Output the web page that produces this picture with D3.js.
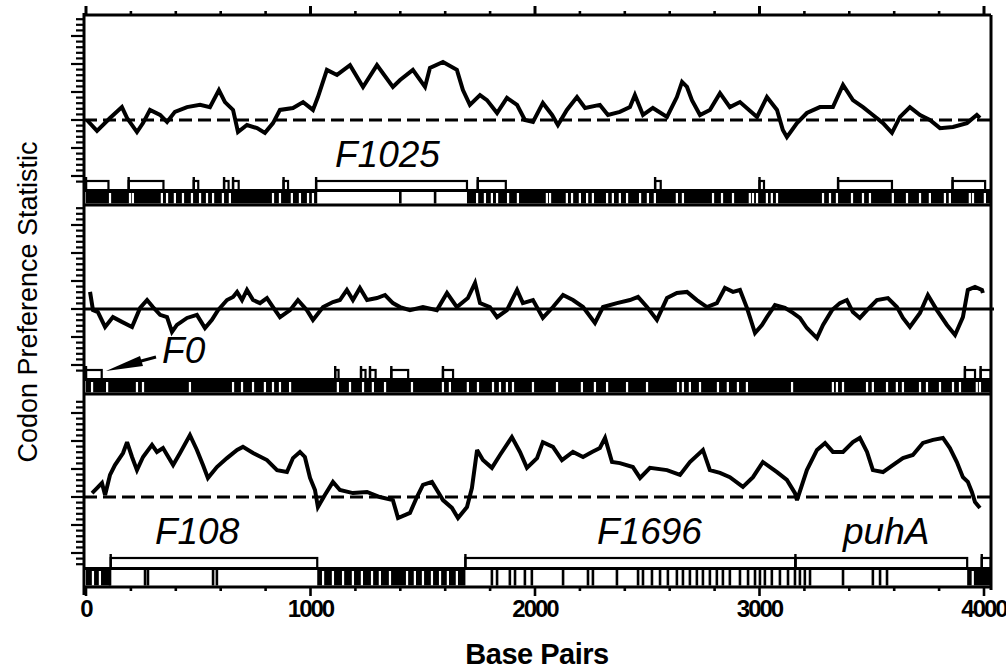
<!DOCTYPE html>
<html>
<head>
<meta charset="utf-8">
<script src="https://cdn.jsdelivr.net/npm/d3@7/dist/d3.min.js"></script>
<style>
body { margin: 0; background: #fff; }
</style>
</head>
<body>
<div id="chart"></div>
<script>
// values (base pairs / codon preference statistic)
const xTickLabels = [0, 1000, 2000, 3000, 4000];

const bp1 = [4,49,107,160,183,227,254,285,330,361,396,450,508,552,592,619,655,677,717,762,797,833,864,922,967,1011,1033,1073,1118,1176,1234,1296,1367,1399,1456,1510,1532,1590,1652,1679,1710,1755,1786,1831,1875,1920,1955,1991,2035,2076,2102,2142,2187,2223,2289,2325,2378,2423,2445,2481,2525,2588,2632,2655,2677,2699,2735,2779,2824,2868,2913,2989,3033,3078,3104,3122,3167,3211,3269,3327,3372,3416,3461,3505,3550,3590,3626,3670,3715,3759,3804,3862,3924,3968,3982];
const cp1 = [1.000,0.961,1.007,1.046,1.007,0.957,0.989,1.036,1.018,0.993,1.029,1.046,1.054,1.046,1.107,1.064,1.036,0.957,0.982,0.971,0.954,0.989,1.036,1.043,1.064,1.036,1.082,1.179,1.161,1.196,1.118,1.196,1.118,1.143,1.179,1.118,1.186,1.207,1.179,1.107,1.054,1.089,1.071,1.025,1.079,1.054,1.000,0.993,1.061,1.018,0.982,1.036,1.082,1.043,1.054,1.018,1.029,1.046,1.089,1.018,1.043,1.011,1.082,1.136,1.118,1.071,1.018,1.036,1.096,1.046,1.064,1.011,1.082,1.036,0.964,0.939,0.989,1.025,1.046,1.046,1.125,1.071,1.046,1.018,0.989,0.954,1.011,1.046,1.018,1.000,0.971,0.975,0.989,1.018,1.007];

const bp2 = [18,31,53,85,120,160,205,241,272,298,330,361,383,405,450,494,530,561,588,628,655,673,695,717,744,775,806,833,864,909,944,984,1011,1056,1100,1131,1162,1189,1220,1252,1296,1332,1367,1399,1443,1501,1563,1608,1652,1701,1733,1755,1799,1831,1875,1920,1946,1991,2035,2080,2125,2169,2214,2267,2303,2365,2423,2459,2499,2543,2588,2632,2677,2721,2766,2810,2846,2882,2913,2944,2980,3011,3033,3069,3113,3149,3180,3211,3256,3283,3323,3358,3389,3416,3447,3479,3523,3572,3612,3639,3670,3715,3750,3790,3835,3871,3906,3928,3960,3991,3995];
const cp2 = [1.061,0.996,0.989,0.936,0.971,0.954,0.936,1.004,1.032,1.007,0.979,0.971,0.918,0.943,0.968,0.979,0.932,0.961,0.996,1.032,1.043,1.061,1.032,1.068,1.032,1.021,1.039,1.007,0.971,0.996,1.032,0.996,0.961,1.007,1.025,1.032,1.068,1.032,1.075,1.032,1.039,1.050,1.021,1.007,0.996,1.007,0.996,1.057,1.007,1.039,1.093,1.021,1.007,0.971,0.996,1.068,1.021,1.032,0.968,1.007,1.050,1.032,1.007,0.950,1.007,1.021,1.032,1.043,1.007,0.961,1.039,1.057,1.061,1.032,1.007,1.021,1.075,1.061,1.068,1.004,0.914,0.943,0.971,1.014,1.004,0.986,0.968,0.932,0.896,0.943,0.996,1.021,1.032,0.989,0.968,0.996,1.032,1.039,1.007,0.968,0.936,0.986,1.050,0.996,0.943,0.907,0.971,1.068,1.079,1.068,1.057];

const bp3 = [27,49,71,85,107,129,165,183,205,227,254,294,316,343,388,419,463,494,521,543,583,628,673,699,744,806,851,895,922,953,975,998,1020,1033,1064,1100,1131,1189,1252,1309,1367,1390,1443,1474,1501,1541,1563,1590,1630,1657,1697,1719,1742,1768,1808,1844,1897,1933,1964,2009,2035,2080,2120,2169,2214,2254,2289,2312,2343,2378,2436,2468,2512,2588,2646,2690,2748,2779,2824,2868,2926,2971,3015,3078,3122,3158,3167,3211,3256,3292,3327,3372,3416,3447,3479,3505,3550,3594,3639,3683,3728,3773,3817,3848,3879,3906,3928,3946,3960,3982];
const cp3 = [1.014,1.032,1.050,1.007,1.079,1.114,1.157,1.196,1.143,1.096,1.143,1.186,1.161,1.175,1.114,1.157,1.221,1.168,1.114,1.068,1.107,1.139,1.168,1.179,1.157,1.132,1.096,1.089,1.139,1.161,1.143,1.068,1.025,0.964,1.007,1.054,1.025,1.014,1.018,1.000,0.989,0.925,0.943,1.000,1.043,1.054,1.025,0.989,0.961,0.925,0.964,1.032,1.168,1.132,1.104,1.150,1.214,1.161,1.104,1.139,1.196,1.179,1.132,1.161,1.143,1.161,1.175,1.211,1.125,1.121,1.107,1.068,1.104,1.096,1.079,1.125,1.168,1.096,1.086,1.071,1.036,1.071,1.125,1.089,1.061,1.014,0.989,1.096,1.168,1.193,1.161,1.161,1.196,1.211,1.161,1.096,1.089,1.114,1.139,1.150,1.193,1.204,1.211,1.175,1.125,1.071,1.054,1.018,0.982,0.961];

// open reading frames (boxes above the track line)
const orfs1 = [[0,100],[190,345],[480,500],[615,635],[655,680],[880,900],[1025,1697],[1745,1870],[2535,2560],[3000,3020],[3350,3590],[3860,4005]];
const orfs2 = [[0,70],[1110,1125],[1225,1245],[1265,1290],[1360,1435],[1590,1635],[3915,3960],[3985,4030]];
const orfs3 = [[110,1030],[1690,3160],[3160,3925],[3990,4030]];

// codon tick row: black stretches, white slits inside them, black ticks elsewhere
const band1 = [[0,1030],[1697,4030]];
const slits1 = [107,196,209,338,361,396,432,472,508,539,566,610,641,833,864,917,953,989,1011,1742,1777,1808,1831,1880,1924,2053,2067,2142,2165,2200,2232,2258,2321,2347,2378,2410,2468,2503,2534,2632,2659,2793,2833,2882,2957,2971,2989,3033,3055,3078,3283,3314,3345,3412,3461,3492,3594,3657,3715,3759,3826,3848,3937,3951,4004];
const ticks1 = [1400,1555];

const band2 = [[0,4030]];
const slits2 = [27,94,227,254,463,655,695,744,797,833,864,909,1122,1176,1234,1278,1332,1452,1590,1621,1701,1746,1813,1844,1875,1902,1991,2098,2209,2267,2321,2410,2499,2637,2659,2690,2735,2815,2859,2904,2944,3145,3327,3345,3372,3479,3505,3568,3612,3639,3715,3746,3804,3862,3893,3968,3982];
const ticks2 = [];

const band3 = [[0,110],[1030,1690],[3925,4030]];
const slits3 = [31,62,1056,1100,1145,1189,1229,1274,1309,1354,1430,1465,1501,1541,1577,1612,1652,3950];
const ticks3 = [107,263,276,566,583,1808,1831,1888,1911,1955,1986,2125,2236,2258,2365,2459,2481,2521,2557,2592,2632,2659,2690,2721,2748,2779,2810,2837,2868,2913,2949,2980,3002,3024,3055,3091,3127,3158,3180,3202,3225,3372,3505,3537,3568];

const geneNames = [["F1025"], ["F0"], ["F108", "F1696", "puhA"]];
const geneLabelBp = [[1109], [339], [307, 2276, 3372]];

const width = 1006, height = 670;
const frameLeft = 84, frameRight = 991;

const x = d3.scaleLinear().domain([0, 4000]).range([86, 984]);

// per-panel layout in pixels
const layout = [
  { top: 15,  base: 120, boxTop: 181, line: 190.5, rowTop: 192, rowBot: 203.5, bottom: 205, labelY: 167 },
  { top: 205, base: 309, boxTop: 370, line: 379.5, rowTop: 381, rowBot: 392.5, bottom: 394, labelY: 363 },
  { top: 394, base: 497, boxTop: 558, line: 568.5, rowTop: 570, rowBot: 585.5, bottom: 587, labelY: 544 }
];

const panels = [
  { bp: bp1, cp: cp1, orfs: orfs1, band: band1, slits: slits1, ticks: ticks1, dashed: true },
  { bp: bp2, cp: cp2, orfs: orfs2, band: band2, slits: slits2, ticks: ticks2, dashed: false },
  { bp: bp3, cp: cp3, orfs: orfs3, band: band3, slits: slits3, ticks: ticks3, dashed: true }
];

const svg = d3.select("#chart").append("svg")
  .attr("width", width)
  .attr("height", height)
  .style("font-family", "'Liberation Sans', Arial, Helvetica, sans-serif");

panels.forEach((p, i) => {
  const L = layout[i];
  const y = d3.scaleLinear().domain([1, 1.25]).range([L.base, L.base - 70]);
  const g = svg.append("g");

  // left axis ticks
  const yTicks = d3.range(0, 40).map(k => +(1 + (k - 12) * 0.02).toFixed(2))
    .filter(v => y(v) <= L.line - 4 && y(v) >= L.top + 3);
  g.selectAll("line.ytick")
    .data(yTicks)
    .enter().append("line")
    .attr("x1", d => Math.round(d * 100) % 10 === 0 ? 71 : 76)
    .attr("x2", frameLeft)
    .attr("y1", d => y(d))
    .attr("y2", d => y(d))
    .attr("stroke", "#000")
    .attr("stroke-width", 2.2);

  // track row: black stretches
  g.selectAll("rect.band")
    .data(p.band)
    .enter().append("rect")
    .attr("x", d => x(d[0]))
    .attr("width", d => Math.min(x(d[1]), frameRight) - x(d[0]))
    .attr("y", L.rowTop)
    .attr("height", L.rowBot - L.rowTop)
    .attr("fill", "#000");

  g.selectAll("rect.slit")
    .data(p.slits)
    .enter().append("rect")
    .attr("x", d => x(d) - 1.1)
    .attr("width", 2.2)
    .attr("y", L.rowTop + 1)
    .attr("height", L.rowBot - L.rowTop - 1)
    .attr("fill", "#fff");

  g.selectAll("rect.tick")
    .data(p.ticks)
    .enter().append("rect")
    .attr("x", d => x(d) - 1.3)
    .attr("width", 2.6)
    .attr("y", L.rowTop)
    .attr("height", L.rowBot - L.rowTop)
    .attr("fill", "#000");

  // ORF boxes
  g.selectAll("rect.orf")
    .data(p.orfs)
    .enter().append("rect")
    .attr("x", d => x(d[0]))
    .attr("width", d => Math.min(x(d[1]), frameRight) - x(d[0]))
    .attr("y", L.boxTop)
    .attr("height", L.line - L.boxTop)
    .attr("fill", "none")
    .attr("stroke", "#000")
    .attr("stroke-width", 2.2);

  g.selectAll("line.start")
    .data(p.orfs)
    .enter().append("line")
    .attr("x1", d => x(d[0]))
    .attr("x2", d => x(d[0]))
    .attr("y1", L.boxTop - 4)
    .attr("y2", L.line)
    .attr("stroke", "#000")
    .attr("stroke-width", 2.4);

  // track line and panel bottom line
  g.append("line")
    .attr("x1", frameLeft).attr("x2", frameRight)
    .attr("y1", L.line).attr("y2", L.line)
    .attr("stroke", "#000").attr("stroke-width", 3);
  g.append("line")
    .attr("x1", frameLeft).attr("x2", frameRight)
    .attr("y1", L.bottom).attr("y2", L.bottom)
    .attr("stroke", "#000").attr("stroke-width", 3);

  // reference line at 1.0
  g.append("line")
    .attr("x1", frameLeft).attr("x2", frameRight + 3)
    .attr("y1", y(1)).attr("y2", y(1))
    .attr("stroke", "#000")
    .attr("stroke-width", 3)
    .attr("stroke-dasharray", p.dashed ? "13,6" : null);

  // codon preference curve
  const line = d3.line()
    .x((d, k) => x(p.bp[k]))
    .y(d => y(d));
  g.append("path")
    .datum(p.cp)
    .attr("d", line)
    .attr("fill", "none")
    .attr("stroke", "#000")
    .attr("stroke-width", 4)
    .attr("stroke-linejoin", "miter")
    .attr("stroke-miterlimit", 3);

  // gene labels
  g.selectAll("text.gene")
    .data(geneNames[i])
    .enter().append("text")
    .attr("x", (d, k) => x(geneLabelBp[i][k]))
    .attr("y", L.labelY)
    .attr("font-size", 37)
    .attr("font-style", "italic")
    .text(d => d);
});

// F0 arrow
svg.append("line")
  .attr("x1", 156).attr("y1", 357)
  .attr("x2", 130).attr("y2", 364)
  .attr("stroke", "#000").attr("stroke-width", 3);
svg.append("path")
  .attr("d", "M106,371 L140,356 L143,366 Z")
  .attr("fill", "#000");

// outer frame
svg.append("line")
  .attr("x1", frameLeft).attr("x2", frameRight)
  .attr("y1", 15).attr("y2", 15)
  .attr("stroke", "#000").attr("stroke-width", 3);
svg.append("line")
  .attr("x1", frameLeft).attr("x2", frameLeft)
  .attr("y1", 13).attr("y2", 595)
  .attr("stroke", "#000").attr("stroke-width", 3);
svg.append("line")
  .attr("x1", frameRight).attr("x2", frameRight)
  .attr("y1", 15).attr("y2", 590)
  .attr("stroke", "#000").attr("stroke-width", 3);

// top and bottom x ticks
const xMinor = d3.range(0, 4001, 200);
svg.selectAll("line.xtop")
  .data(xMinor)
  .enter().append("line")
  .attr("x1", d => x(d)).attr("x2", d => x(d))
  .attr("y1", d => d % 1000 === 0 ? 6 : 11)
  .attr("y2", 15)
  .attr("stroke", "#000").attr("stroke-width", d => d % 1000 === 0 ? 3 : 2.6);
svg.selectAll("line.xbot")
  .data(xMinor)
  .enter().append("line")
  .attr("x1", d => x(d)).attr("x2", d => x(d))
  .attr("y1", 587)
  .attr("y2", d => d % 1000 === 0 ? 596 : 591)
  .attr("stroke", "#000").attr("stroke-width", 2.6);

svg.selectAll("text.xlab")
  .data(xTickLabels)
  .enter().append("text")
  .attr("x", d => x(d))
  .attr("y", 617)
  .attr("text-anchor", "middle")
  .attr("font-size", 24)
  .attr("font-weight", "bold")
  .attr("letter-spacing", -2)
  .text(d => d);

svg.append("text")
  .attr("x", 537)
  .attr("y", 664)
  .attr("text-anchor", "middle")
  .attr("font-size", 29)
  .attr("font-weight", "bold")
  .attr("letter-spacing", -0.5)
  .text("Base Pairs");

svg.append("text")
  .attr("transform", "translate(37,302) rotate(-90)")
  .attr("text-anchor", "middle")
  .attr("font-size", 27)
  .text("Codon Preference Statistic");
</script>
</body>
</html>
